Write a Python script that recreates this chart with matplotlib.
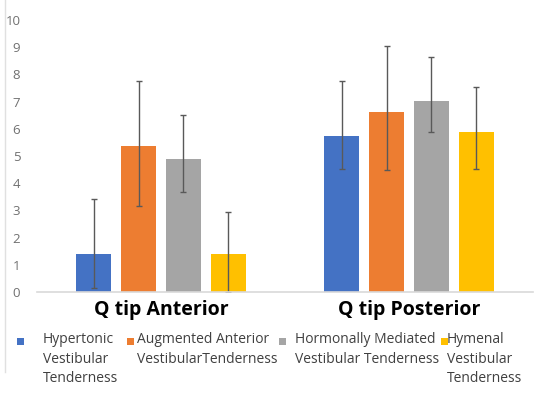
import numpy as np
import matplotlib
matplotlib.use('Agg')
from matplotlib import pyplot as plt
from matplotlib.patches import Rectangle

#%% data
groups = ["Q tip Anterior", "Q tip Posterior"]
series = ["Hypertonic\nVestibular\nTenderness",
          "Augmented Anterior\nVestibularTenderness",
          "Hormonally Mediated\nVestibular Tenderness",
          "Hymenal\nVestibular\nTenderness"]
hypertonic = [1.39, 5.75]
augmented = [5.37, 6.62]
hormonal = [4.88, 7.01]
hymenal = [1.39, 5.89]
# error bars (lower, upper) per group
hypertonic_err = [[1.24, 1.23], [2.02, 2.01]]
augmented_err = [[2.21, 2.15], [2.40, 2.41]]
hormonal_err = [[1.19, 1.13], [1.63, 1.64]]
hymenal_err = [[1.39, 1.36], [1.55, 1.64]]
colors = ["#4472C4", "#ED7D31", "#A5A5A5", "#FFC000"]

#%%
plt.rcParams['font.family'] = ['Open Sans', 'DejaVu Sans']
fig = plt.figure(figsize=(5.5, 3.93), dpi=100)
ax = fig.add_axes([37/550, 1-292/393, 496/550, 272/393])

x = np.arange(len(groups))
width = 0.141
step = 0.181
values = [hypertonic, augmented, hormonal, hymenal]
errs = [hypertonic_err, augmented_err, hormonal_err, hymenal_err]
for i, (vals, err, c) in enumerate(zip(values, errs, colors)):
    ax.bar(x + (i - 1.5) * step, vals, width, color=c, yerr=err,
           error_kw=dict(ecolor="#595959", elinewidth=1.0, capsize=2.5, capthick=1.0))

ax.set_xlim(-0.5, 1.5)
ax.set_ylim(0, 10)
ax.set_yticks(range(0, 11))
ax.set_xticks(x)
ax.set_xticklabels(groups, fontsize=14, fontweight='bold', color='black')
ax.tick_params(axis='y', length=0, pad=12, labelsize=9.5, labelcolor='#707070')
ax.tick_params(axis='x', length=0, pad=6)
for s in ['top', 'right', 'left']:
    ax.spines[s].set_visible(False)
ax.spines['bottom'].set_color('#D9D9D9')
ax.spines['bottom'].set_linewidth(1.2)

# left border of the chart area
fig.add_artist(plt.Line2D([5/550, 5/550], [1-372/393, 1], transform=fig.transFigure,
                          color='#E0E0E0', lw=1))

# legend drawn by hand to keep the irregular layout
marker_x = [17, 127, 279, 441]
text_x = [43, 137, 295, 447]
for mx, tx, lab, c in zip(marker_x, text_x, series, colors):
    fig.add_artist(Rectangle((mx/550, 1-345/393), 7/550, 7/393,
                             transform=fig.transFigure, color=c, lw=0))
    fig.text(tx/550, 1-332/393, lab, fontsize=10, color='#404040',
             va='top', ha='left', linespacing=1.42)

fig.savefig('out.png', dpi=100)
